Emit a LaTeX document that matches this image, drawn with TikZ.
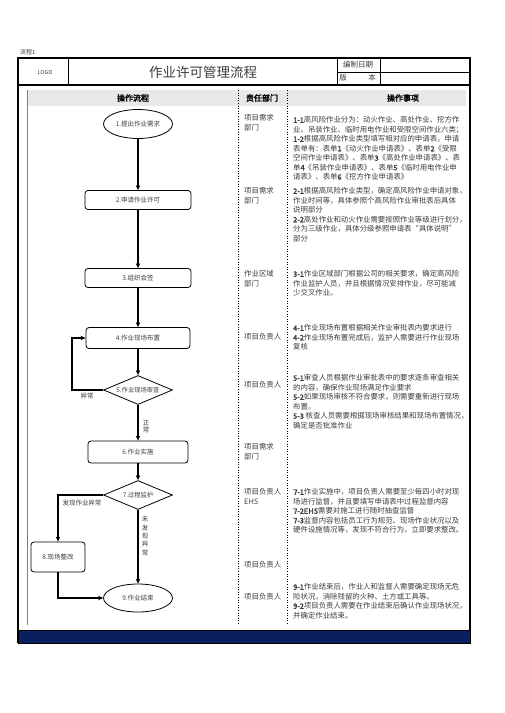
\documentclass[tikz,border=0pt]{standalone}
\usepackage{fontspec}
\setmainfont{Noto Sans CJK SC}[AutoFakeBold=2]
\usetikzlibrary{shapes.geometric,arrows.meta}
\definecolor{txtgray}{HTML}{3C3C3C}
\definecolor{navybar}{HTML}{0A1F5E}
\definecolor{headgray}{HTML}{E8E8E8}
\begin{document}
\begin{tikzpicture}[x=1pt,y=-1pt,
 txt/.style={text=txtgray,inner sep=0pt,font=\fontsize{7.4}{9.5}\selectfont,align=left,anchor=north west},
 proc/.style={draw=black,line width=0.8pt,rounded corners=3pt,minimum width=106pt,minimum height=19pt,inner sep=0pt,text=txtgray,font=\fontsize{6.5}{8}\selectfont},
 term/.style={ellipse,draw=black,line width=0.8pt,minimum width=69pt,minimum height=29pt,inner sep=0pt,text=txtgray,font=\fontsize{6.5}{8}\selectfont},
 dec/.style={diamond,draw=black,line width=0.8pt,aspect=2.4,minimum width=69pt,minimum height=29pt,inner sep=0pt,text=txtgray,font=\fontsize{6.3}{8}\selectfont},
 flow/.style={line width=1.4pt,-{Stealth[length=5pt,width=4.5pt]}},
 lbl/.style={text=txtgray,font=\fontsize{6.5}{8}\selectfont,inner sep=0pt,align=center},
 headtxt/.style={font=\bfseries\fontsize{8}{9}\selectfont,inner sep=0pt,text=black}]
\useasboundingbox (0,0) rectangle (504,713);

% top label
\node[lbl,anchor=west,font=\fontsize{6}{7}\selectfont] (flowno) at (20,52) {流程1};

% header frame
\draw[line width=1.1pt] (18,58) rectangle (470,85);
\draw[line width=0.8pt] (68,58) -- (68,85);
\draw[line width=0.8pt] (337,58) -- (337,85);
\draw[line width=0.8pt] (380,58) -- (380,85);
\draw[line width=0.8pt] (337,72) -- (470,72);
\node[lbl,font=\fontsize{5.5}{7}\selectfont] (logo) at (45,72) {LOGO};
\node[lbl,font=\fontsize{13.5}{15}\selectfont] (title) at (203,72) {作业许可管理流程};
\node[lbl,font=\fontsize{7.5}{9}\selectfont] (date) at (358,65) {编制日期};
\node[lbl,font=\fontsize{7.5}{9}\selectfont] (ver1) at (343,78) {版};
\node[lbl,font=\fontsize{7.5}{9}\selectfont] (ver2) at (372,78) {本};

% body frame
\draw[line width=1.1pt] (18,85) -- (18,643);
\draw[line width=1.1pt] (470,85) -- (470,643);
\fill[headgray] (27,90) rectangle (466,106);
\draw[line width=0.6pt,gray] (27,90) -- (27,625);
\draw[line width=0.6pt,dotted] (238,90) -- (238,625);
\draw[line width=0.6pt,dotted] (287,90) -- (287,625);
\draw[line width=0.8pt,fill=navybar] (18,630) rectangle (470,643);

\node[headtxt] (h1) at (133,98) {操作流程};
\node[headtxt] (h2) at (262,98) {责任部门};
\node[headtxt] (h3) at (403,98) {操作事项};

% flow nodes
\node[term] (n1) at (138,124) {1.提出作业需求};
\node[proc] (n2) at (138,200) {2.申请作业许可};
\node[proc] (n3) at (138,278) {3.组织会签};
\node[proc,minimum width=104pt,minimum height=21pt] (n4) at (138,338) {4.作业现场布置};
\node[dec] (n5) at (138,390) {5.作业现场审查};
\node[proc,minimum width=100pt,minimum height=22pt] (n6) at (138,452) {6.作业实施};
\node[dec] (n7) at (138,495) {7.过程监护};
\node[proc,minimum width=54pt,minimum height=30pt] (n8) at (58,557) {8.现场整改};
\node[term,minimum height=28pt] (n9) at (138,598) {9.作业结束};

\coordinate (c5) at (72,390);

\draw[flow] (n1) -- (n2);
\draw[flow] (n2) -- (n3);
\draw[flow] (n3) -- (n4);
\draw[flow] (n4) -- (n5);
\draw[flow] (n5) -- (n6);
\draw[flow] (n5.west) -- (c5) |- (n4.west);
\draw[flow] (n6) -- (n7);
\draw[flow] (n7) -- (n9);
\draw[flow] (n7.west) -| (n8.north);
\draw[flow] (n8.south) |- (n9.west);

\node[lbl] (l5a) at (87,396) {异常};
\node[lbl,font=\fontsize{6.5}{7.5}\selectfont] (l5b) at (146,427) {正\\常};
\node[lbl] (l7a) at (82,503) {发现作业异常};
\node[lbl,font=\fontsize{6.5}{8.3}\selectfont] (l7b) at (145,536) {未\\发\\现\\异\\常};

% responsibility column
\node[txt] (r1) at (244,114.3) {项目需求\\部门};
\node[txt] (r2) at (244,187.3) {项目需求\\部门};
\node[txt] (r3) at (244,270.3) {作业区域\\部门};
\node[txt] (r4) at (244,333.3) {项目负责人};
\node[txt] (r5) at (244,381.3) {项目负责人};
\node[txt] (r6) at (244,443.3) {项目需求\\部门};
\node[txt] (r7) at (244,488.3) {项目负责人\\EHS};
\node[txt] (r8) at (244,561.3) {项目负责人};
\node[txt] (r9) at (244,593.3) {项目负责人};

% matters column
\node[txt] (m1) at (293,116.3) {\textbf{1-1}高风险作业分为：动火作业、高处作业、挖方作\\
业、吊装作业、临时用电作业和受限空间作业六类；\\
\textbf{1-2}根据高风险作业类型填写相对应的申请表，申请\\
表单有：表单\textbf{1}《动火作业申请表》、表单\textbf{2}《受限\\
空间作业申请表》、表单\textbf{3}《高处作业申请表》、表\\
单\textbf{4}《吊装作业申请表》、表单\textbf{5}《临时用电作业申\\
请表》、表单\textbf{6}《挖方作业申请表》};

\node[txt] (m2) at (293,187.3) {\textbf{2-1}根据高风险作业类型，确定高风险作业申请对象，\\
作业时间等，具体参照个高风险作业审批表后具体\\
说明部分\\
\textbf{2-2}高处作业和动火作业需要按照作业等级进行划分，\\
分为三级作业，具体分级参照申请表“具体说明”\\
部分};

\node[txt] (m3) at (293,270.3) {\textbf{3-1}作业区域部门根据公司的相关要求，确定高风险\\
作业监护人员，并且根据情况安排作业，尽可能减\\
少交叉作业。};

\node[txt] (m4) at (293,324.3) {\textbf{4-1}作业现场布置根据相关作业审批表内要求进行\\
\textbf{4-2}作业现场布置完成后，监护人需要进行作业现场\\
复核};

\node[txt] (m5) at (293,374.3) {\textbf{5-1}审查人员根据作业审批表中的要求逐条审查相关\\
的内容，确保作业现场满足作业要求\\
\textbf{5-2}如果现场审核不符合要求，则需要重新进行现场\\
布置。\\
\textbf{5-3} 核查人员需要根据现场审核结果和现场布置情况，\\
确定是否批准作业};

\node[txt] (m7) at (293,488.3) {\textbf{7-1}作业实施中，项目负责人需要至少每四小时对现\\
场进行监督，并且要填写申请表中过程监督内容\\
\textbf{7-2EHS}需要对施工进行随时抽查监督\\
\textbf{7-3}监督内容包括员工行为规范、现场作业状况以及\\
硬件设施情况等，发现不符合行为，立即要求整改。};

\node[txt] (m9) at (293,583.3) {\textbf{9-1}作业结束后，作业人和监督人需要确定现场无危\\
险状况，消除残留的火种、土方或工具等。\\
\textbf{9-2}项目负责人需要在作业结束后确认作业现场状况，\\
并确定作业结束。};
\end{tikzpicture}
\end{document}
